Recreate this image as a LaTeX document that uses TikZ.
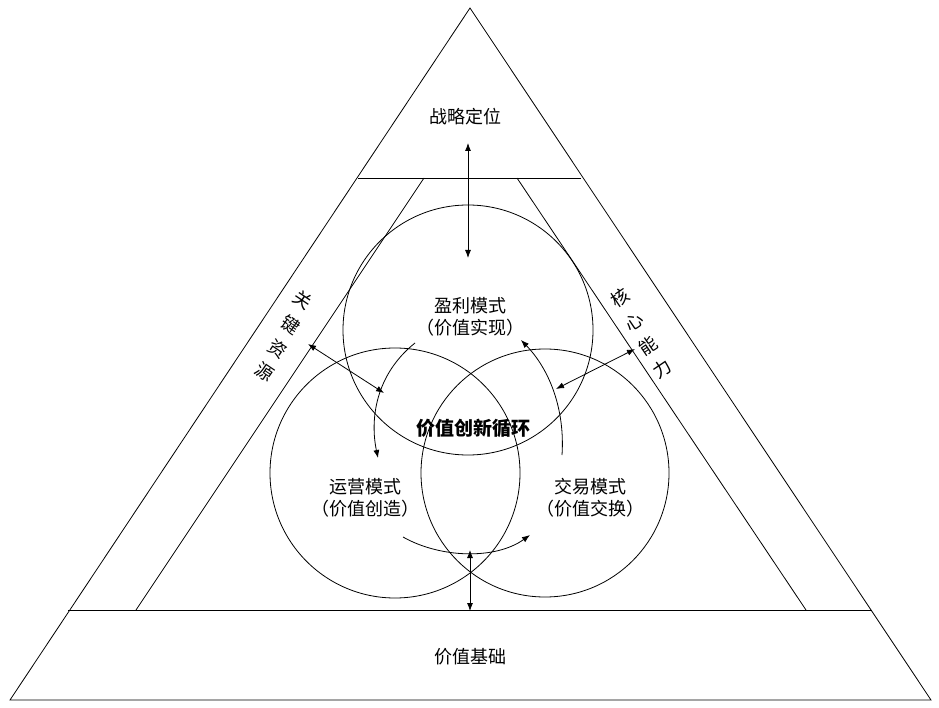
\documentclass[tikz,border=0pt]{standalone}
\usepackage{fontspec}
\newfontfamily\cjk{Noto Sans CJK SC}
\usetikzlibrary{arrows.meta}
\begin{document}
\begin{tikzpicture}[x=1pt,y=-1pt,line width=0.8pt,
  lab/.style={font=\cjk\fontsize{18}{22}\selectfont,inner sep=1pt},
  ar/.style={-{Latex[length=8pt,width=6pt]}},
  dar/.style={{Latex[length=8pt,width=6pt]}-{Latex[length=8pt,width=6pt]}}]
\useasboundingbox (0,0) rectangle (939,708);
\coordinate (A) at (470,8); \coordinate (L) at (10,700); \coordinate (R) at (931,700);
\draw (A) -- (L) -- (R) -- cycle;
\coordinate (t1) at (358,178); \coordinate (t2) at (581,178);
\draw (t1) -- (t2);
\coordinate (b1) at (68,610); \coordinate (b2) at (872,610);
\draw (b1) -- (b2);
\coordinate (il1) at (424,178); \coordinate (il2) at (136,610);
\coordinate (ir1) at (517,178); \coordinate (ir2) at (806,610);
\draw (il1) -- (il2); \draw (ir1) -- (ir2);
\draw (468,330) circle (125);
\draw (395,473) circle (125);
\draw (545,473) circle (124);
\node[lab] (top) at (465,117) {战略定位};
\node[lab] (base) at (470,657) {价值基础};
\node[lab,align=center] (yl) at (470,317) {盈利模式\\（价值实现）};
\node[lab,align=center] (yy) at (365,498) {运营模式\\（价值创造）};
\node[lab,align=center] (jy) at (590,498) {交易模式\\（价值交换）};
\node[lab,font=\cjk\bfseries\fontsize{19}{22}\selectfont] (c) at (473,428) {价值创新循环};
\foreach \ch/\x/\y in {关/303/300,键/291/325,资/278/349,源/265/372}
  \node[lab,rotate=-34] (k\ch) at (\x,\y) {\ch};
\foreach \ch/\x/\y in {核/620/298,心/634/322,能/648/346,力/662/369}
  \node[lab,rotate=34] (h\ch) at (\x,\y) {\ch};
\coordinate (v1) at (468,143); \coordinate (v2) at (468,258);
\draw[dar] (v1) -- (v2);
\coordinate (l1) at (308,344); \coordinate (l2) at (384,393);
\draw[dar] (l1) -- (l2);
\coordinate (r1) at (635,349); \coordinate (r2) at (556,389);
\draw[dar] (r1) -- (r2);
\coordinate (d1) at (470,550); \coordinate (d2) at (470,611);
\draw[dar] (d1) -- (d2);
\coordinate (ca1) at (415,343); \coordinate (ca2) at (378,458);
\draw[ar] (ca1) .. controls (375,375) and (370,420) .. (ca2);
\coordinate (cb1) at (562,455); \coordinate (cb2) at (521,340);
\draw[ar] (cb1) .. controls (565,410) and (550,370) .. (cb2);
\coordinate (cc1) at (403,537); \coordinate (cc2) at (530,535);
\draw[ar] (cc1) .. controls (440,558) and (495,560) .. (cc2);
\end{tikzpicture}
\end{document}
